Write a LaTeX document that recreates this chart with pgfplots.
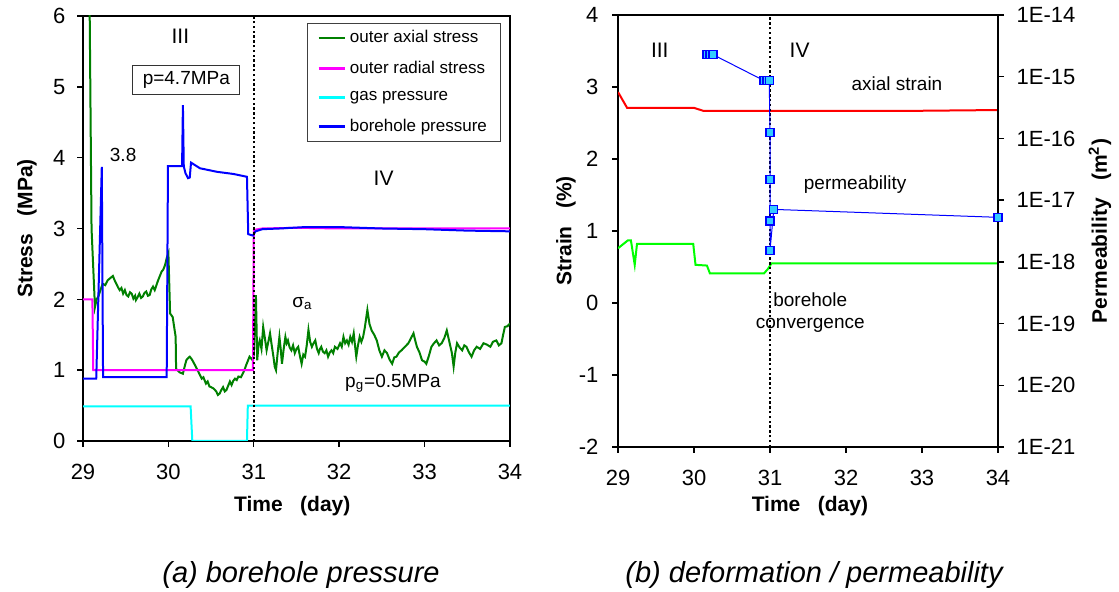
\documentclass[border=0pt]{standalone}
\usepackage{fontspec}
\setmainfont{Liberation Sans}
\usepackage{pgfplots}
\pgfplotsset{compat=1.18}
\definecolor{dgreen}{RGB}{0,128,0}
\definecolor{mag}{RGB}{255,0,255}
\definecolor{cyn}{RGB}{0,255,255}
\definecolor{blu}{RGB}{0,0,255}
\definecolor{red2}{RGB}{255,0,0}
\definecolor{lime2}{RGB}{0,255,0}
\definecolor{mfill}{RGB}{51,204,255}
\tikzset{ann/.style={font=\fontsize{9.5}{11}\selectfont}}
\pgfplotsset{
  base/.style={scale only axis, anchor=south west, tick align=outside,
    major tick length=3pt, axis line style={line width=1pt},
    tick style={black, line width=0.7pt},
    ticklabel style={font=\fontsize{11}{13}\selectfont},
    /pgf/number format/assume math mode=true,
    label style={font=\bfseries\fontsize{10.5}{12}\selectfont},
    xmin=29, xmax=34, xtick={29,30,31,32,33,34}}
}
\begin{document}
\begin{tikzpicture}
\useasboundingbox (0,0) rectangle (559.5pt,296pt);
% ---------------- left panel ----------------
\begin{axis}[base, at={(41.5pt,75.5pt)}, width=213.5pt, height=212.5pt,
  ymin=0, ymax=6, ytick={0,1,2,3,4,5,6},
  xtick pos=bottom, ytick pos=left,
  xticklabel style={anchor=north, yshift=-5pt},
  yticklabel style={anchor=east, xshift=-2.3pt},
  xlabel={Time\ \ \ (day)}, ylabel={Stress\ \ \ (MPa)},
  xlabel style={at={(axis description cs:0.49,-0.152)}, anchor=center},
  ylabel style={at={(axis description cs:-0.131,0.5)}, anchor=center},
  legend style={at={(axis description cs:0.98,0.984)}, anchor=north east,
    draw=black!75, line width=0.5pt, font=\fontsize{8.5}{10}\selectfont,
    row sep=3.6pt, inner xsep=5pt, inner ysep=1.5pt},
  legend cell align=left,
  legend image code/.code={\draw[#1,line width=1.2pt] (0pt,0pt) -- (13pt,0pt);}
]
\addplot[dgreen, line width=1pt] coordinates {
(29.075,6.5)(29.10,3.0)(29.14,1.89)(29.16,2.00)(29.18,2.04)(29.21,2.15)(29.23,2.22)(29.26,2.20)(29.29,2.27)
(29.32,2.30)(29.35,2.33)(29.37,2.27)(29.39,2.22)(29.41,2.17)(29.43,2.13)(29.45,2.16)(29.47,2.08)
(29.49,2.13)(29.51,2.06)(29.53,2.04)(29.55,2.10)(29.57,2.08)(29.59,2.01)(29.61,2.05)(29.62,1.99)
(29.64,2.03)(29.66,2.08)(29.68,2.02)(29.70,2.04)(29.72,2.09)(29.74,2.11)(29.76,2.05)(29.78,2.06)
(29.80,2.14)(29.82,2.18)(29.84,2.13)(29.86,2.20)(29.88,2.27)(29.90,2.33)(29.92,2.39)(29.94,2.42)
(29.96,2.48)(29.98,2.58)(30.00,2.65)(30.02,1.80)(30.05,1.75)(30.085,1.47)(30.09,1.02)(30.13,0.97)
(30.17,0.95)(30.19,1.05)(30.21,1.14)(30.23,1.17)(30.25,1.19)(30.27,1.16)(30.29,1.12)(30.32,1.05)
(30.35,0.98)(30.37,0.93)(30.39,0.88)(30.41,0.90)(30.44,0.81)(30.46,0.84)(30.48,0.77)(30.50,0.76)
(30.53,0.74)(30.56,0.70)(30.58,0.65)(30.60,0.67)(30.62,0.72)(30.64,0.76)(30.66,0.70)(30.68,0.72)
(30.70,0.78)(30.72,0.84)(30.74,0.79)(30.76,0.85)(30.78,0.88)(30.80,0.86)(30.82,0.91)(30.85,0.90)
(30.87,0.95)(30.89,1.00)(30.91,1.07)(30.93,1.13)(30.95,1.19)(30.98,1.15)(31.00,1.21)(31.025,2.06)
(31.04,1.14)(31.055,1.35)(31.07,1.42)(31.09,1.30)(31.11,1.61)(31.13,1.45)(31.15,1.28)(31.17,1.40)
(31.19,1.52)(31.21,1.35)(31.23,1.19)(31.245,1.05)(31.26,1.00)(31.28,1.25)(31.30,1.47)(31.315,1.30)
(31.33,1.09)(31.35,1.30)(31.37,1.47)(31.385,1.38)(31.40,1.42)(31.42,1.32)(31.44,1.28)(31.46,1.35)
(31.48,1.24)(31.50,1.30)(31.52,1.33)(31.54,1.20)(31.56,1.09)(31.58,1.22)(31.60,1.19)(31.62,1.35)
(31.64,1.57)(31.66,1.40)(31.68,1.33)(31.70,1.38)(31.72,1.42)(31.74,1.30)(31.76,1.24)(31.775,1.30)
(31.79,1.33)(31.81,1.26)(31.83,1.24)(31.85,1.28)(31.87,1.19)(31.89,1.25)(31.91,1.28)(31.93,1.24)
(31.95,1.33)(31.98,1.30)(32.01,1.38)(32.03,1.33)(32.05,1.47)(32.07,1.38)(32.09,1.42)(32.11,1.36)
(32.13,1.47)(32.15,1.40)(32.17,1.52)(32.185,1.35)(32.20,1.19)(32.22,1.35)(32.24,1.47)(32.26,1.40)
(32.28,1.47)(32.30,1.60)(32.33,1.85)(32.355,1.65)(32.38,1.56)(32.41,1.50)(32.44,1.42)(32.47,1.28)
(32.50,1.19)(32.53,1.28)(32.56,1.24)(32.59,1.15)(32.62,1.09)(32.645,1.18)(32.67,1.19)(32.70,1.25)
(32.73,1.28)(32.77,1.33)(32.81,1.38)(32.84,1.45)(32.87,1.52)(32.89,1.42)(32.91,1.33)(32.94,1.25)
(32.97,1.14)(33.00,1.12)(33.02,1.09)(33.05,1.20)(33.08,1.33)(33.11,1.38)(33.14,1.42)(33.17,1.35)
(33.20,1.38)(33.23,1.45)(33.26,1.56)(33.29,1.40)(33.32,1.24)(33.34,1.05)(33.36,1.25)(33.38,1.38)
(33.41,1.32)(33.44,1.28)(33.465,1.35)(33.49,1.33)(33.52,1.25)(33.55,1.19)(33.58,1.28)(33.61,1.33)
(33.65,1.30)(33.69,1.38)(33.73,1.36)(33.77,1.33)(33.80,1.40)(33.84,1.42)(33.87,1.35)(33.90,1.38)
(33.92,1.50)(33.94,1.61)(33.97,1.62)(34.00,1.66)};
\addlegendentry{outer axial stress}
\addplot[mag, line width=1pt] coordinates {
(29.00,2.00)(29.11,2.00)(29.12,1.00)(30.99,1.00)(31.00,2.98)(31.10,3.00)(31.50,3.01)(32.00,3.00)
(32.50,3.00)(33.00,3.00)(33.50,3.00)(34.00,3.00)};
\addlegendentry{outer radial stress}
\addplot[cyn, line width=1pt] coordinates {
(29.00,0.49)(30.26,0.49)(30.28,0.00)(30.92,0.00)(30.93,0.50)(34.00,0.50)};
\addlegendentry{gas pressure}
\addplot[blu, line width=1pt] coordinates {
(29.00,0.88)(29.155,0.88)(29.22,3.87)(29.235,0.90)(29.98,0.90)(29.995,3.88)(30.16,3.88)(30.17,4.74)
(30.18,3.88)(30.20,3.78)(30.23,3.71)(30.25,3.72)(30.265,3.93)(30.37,3.85)(30.57,3.80)(30.76,3.77)
(30.92,3.73)(30.935,2.92)(30.99,2.90)(31.02,2.96)(31.10,2.99)(31.30,3.00)(31.60,3.02)(32.00,3.02)
(32.50,3.00)(33.00,2.99)(33.50,2.97)(34.00,2.96)};
\addlegendentry{borehole pressure}
\addplot[black, line width=1pt, dash pattern=on 1.2pt off 1.2pt, forget plot] coordinates {(31,0)(31,6)};
\node[ann, font=\fontsize{10.5}{12}\selectfont] at (axis cs:30.14,5.71) {III};
\node[ann, draw=black!80, line width=0.5pt, inner xsep=5pt, inner ysep=3pt] at (axis cs:30.21,5.10) {p=4.7MPa};
\node[ann] at (axis cs:29.47,4.04) {3.8};
\node[ann, font=\fontsize{10.5}{12}\selectfont] at (axis cs:32.52,3.71) {IV};
\node[ann] at (axis cs:31.57,1.94) {σ\textsubscript{a}};
\node[ann] at (axis cs:32.63,0.81) {p\textsubscript{g}=0.5MPa};
\end{axis}
% ---------------- right panel ----------------
\begin{axis}[base, at={(309pt,72.5pt)}, width=190pt, height=216pt,
  ymin=-2, ymax=4, ytick={-2,-1,0,1,2,3,4},
  xtick pos=bottom, ytick pos=left,
  xticklabel style={anchor=north, yshift=-4.8pt},
  yticklabel style={anchor=east, xshift=-3.3pt},
  xlabel={Time\ \ \ (day)}, ylabel={Strain\ \ \ (\%)},
  xlabel style={at={(axis description cs:0.505,-0.136)}, anchor=center},
  ylabel style={at={(axis description cs:-0.137,0.5)}, anchor=center}
]
\addplot[red2, line width=1pt] coordinates {
(29.00,2.93)(29.12,2.71)(29.50,2.71)(30.00,2.71)(30.12,2.67)(31.00,2.67)(32.00,2.67)(33.00,2.67)(34.00,2.68)};
\addplot[lime2, line width=1pt] coordinates {
(29.00,0.76)(29.13,0.87)(29.17,0.87)(29.22,0.53)(29.25,0.82)(29.99,0.82)(30.02,0.53)(30.17,0.52)
(30.21,0.41)(30.92,0.41)(30.97,0.47)(31.02,0.55)(34.00,0.55)};
\addplot[black, line width=1pt, dash pattern=on 1.2pt off 1.2pt] coordinates {(31,-2)(31,4)};
\node[ann, font=\fontsize{10.5}{12}\selectfont] at (axis cs:29.55,3.51) {III};
\node[ann, font=\fontsize{10.5}{12}\selectfont] at (axis cs:31.39,3.51) {IV};
\node[ann] at (axis cs:32.67,3.05) {axial strain};
\node[ann] at (axis cs:32.12,1.65) {permeability};
\node[ann, align=center] at (axis cs:31.53,-0.13) {borehole\\convergence};
\end{axis}
\begin{axis}[base, at={(309pt,72.5pt)}, width=190pt, height=216pt,
  ymode=log, ymin=1e-21, ymax=1e-14,
  axis x line=none, axis y line*=right,
  ytick={1e-21,1e-20,1e-19,1e-18,1e-17,1e-16,1e-15,1e-14},
  yticklabels={1E-21,1E-20,1E-19,1E-18,1E-17,1E-16,1E-15,1E-14},
  yminorticks=false,
  yticklabel style={anchor=west, xshift=2.8pt},
  ylabel={Permeability\ \ \ (m\textsuperscript{2})},
  ylabel style={at={(axis description cs:1.268,0.5)}, anchor=center, rotate=0}
]
\addplot[blu, line width=0.5pt, mark=square*, mark size=2pt,
  mark options={fill=mfill, draw=blu, line width=0.6pt}] coordinates {
(30.17,2.28e-15)(30.21,2.28e-15)(30.25,2.28e-15)(30.92,8.67e-16)(30.96,8.67e-16)(30.99,8.67e-16)
(31.00,1.25e-16)(31.00,2.13e-17)(31.00,4.60e-18)(31.00,1.53e-18)(31.05,7.08e-18)(34.00,5.27e-18)};
\end{axis}
\node[font=\itshape\fontsize{14.5}{17}\selectfont] at (150.5pt,8.3pt) {(a) borehole pressure};
\node[font=\itshape\fontsize{14.5}{17}\selectfont] at (407pt,8.3pt) {(b) deformation / permeability};
\end{tikzpicture}
\end{document}
